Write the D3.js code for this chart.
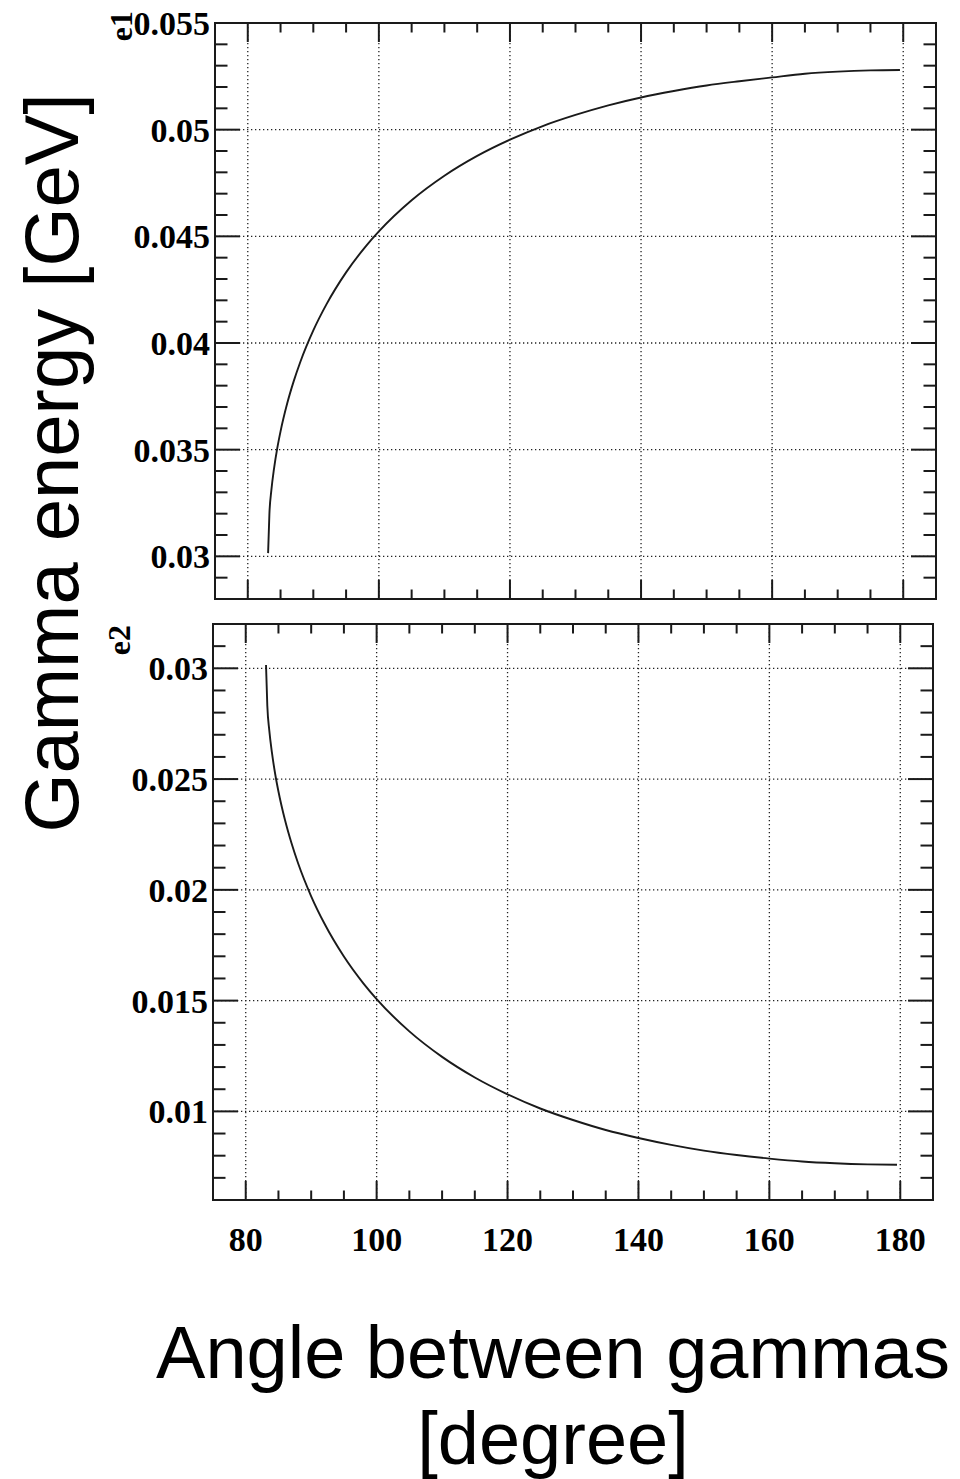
<!DOCTYPE html>
<html>
<head>
<meta charset="utf-8">
<script src="https://cdn.jsdelivr.net/npm/d3@7"></script>
<style>
  html, body { margin: 0; padding: 0; background: #fff; }
  svg { display: block; }
</style>
</head>
<body>
<div id="chart"></div>
<script>
// Angle between the two gammas (degrees)
const angles = [83.1, 83.3, 83.6, 84, 84.5, 85, 86, 87, 88, 90, 92, 95, 98, 100, 105, 110,
  115, 120, 125, 130, 135, 140, 145, 150, 155, 160, 165, 170, 175, 179.5];
// Energy of the harder gamma (GeV)
const e1Values = [0.03015, 0.0320, 0.0331, 0.0341, 0.03507, 0.03586, 0.03715, 0.0382, 0.0391,
  0.04059, 0.04181, 0.04331, 0.04453, 0.04523, 0.04669, 0.04784, 0.04877, 0.04953, 0.05017,
  0.05069, 0.05114, 0.05151, 0.05181, 0.05207, 0.05227, 0.05245, 0.05262, 0.05272, 0.05278, 0.0528];
// Energy of the softer gamma (GeV)
const e2Values = [0.03015, 0.0283, 0.0272, 0.0262, 0.02523, 0.02444, 0.02315, 0.0221, 0.0212,
  0.01971, 0.01849, 0.01699, 0.01577, 0.01507, 0.01361, 0.01246, 0.01153, 0.01077, 0.01013,
  0.00961, 0.00916, 0.0088, 0.00849, 0.00823, 0.00803, 0.00787, 0.00774, 0.00766, 0.00761, 0.00759];

const xDomain = [75, 185];
const xTicks = [80, 100, 120, 140, 160, 180];
const e1Domain = [0.028, 0.055];
const e1Ticks = [0.03, 0.035, 0.04, 0.045, 0.05, 0.055];
const e2Domain = [0.006, 0.032];
const e2Ticks = [0.01, 0.015, 0.02, 0.025, 0.03];

const W = 960, H = 1479;
const INK = '#1a1a1a';
const svg = d3.select('#chart').append('svg').attr('width', W).attr('height', H);

// one ROOT-style frame with mirrored ticks and dotted grid
function panel(box, yDomain, yTicks, values, title, titleEnd, showXLabels) {
  const x = d3.scaleLinear().domain(xDomain).range([box.left, box.right]);
  const y = d3.scaleLinear().domain(yDomain).range([box.bottom, box.top]);
  const g = svg.append('g');

  const xMinor = d3.range(xDomain[0], xDomain[1] + 0.001, 5).filter((v) => !xTicks.includes(v) && v > xDomain[0] && v < xDomain[1]);
  const yMinor = d3.range(Math.round(yDomain[0] * 1000), Math.round(yDomain[1] * 1000) + 1)
    .map((v) => v / 1000)
    .filter((v) => !yTicks.some((t) => Math.abs(t - v) < 1e-9) && v > yDomain[0] + 1e-9 && v < yDomain[1] - 1e-9);

  // grid
  const grid = g.append('g').attr('stroke', '#222').attr('stroke-width', 1.3).attr('stroke-dasharray', '1.3,2.7');
  grid.selectAll('line.gx').data(xTicks).enter().append('line')
    .attr('x1', (d) => x(d)).attr('x2', (d) => x(d)).attr('y1', box.top).attr('y2', box.bottom);
  grid.selectAll('line.gy').data(yTicks.filter((t) => t < yDomain[1] - 1e-9)).enter().append('line')
    .attr('y1', (d) => y(d)).attr('y2', (d) => y(d)).attr('x1', box.left).attr('x2', box.right);

  // curve
  const pts = angles.map((a, i) => [a, values[i]]);
  g.append('path').datum(pts)
    .attr('fill', 'none').attr('stroke', INK).attr('stroke-width', 1.9)
    .attr('d', d3.line().x((p) => x(p[0])).y((p) => y(p[1])).curve(d3.curveMonotoneX));

  // ticks
  const tk = g.append('g').attr('stroke', INK).attr('stroke-width', 2);
  const xt = xTicks.map((v) => ({ v, len: 19 })).concat(xMinor.map((v) => ({ v, len: 9.5 })));
  tk.selectAll('line.xb').data(xt).enter().append('line')
    .attr('x1', (d) => x(d.v)).attr('x2', (d) => x(d.v))
    .attr('y1', box.bottom).attr('y2', (d) => box.bottom - d.len);
  tk.selectAll('line.xt').data(xt).enter().append('line')
    .attr('x1', (d) => x(d.v)).attr('x2', (d) => x(d.v))
    .attr('y1', box.top).attr('y2', (d) => box.top + d.len);
  const yt = yTicks.map((v) => ({ v, len: 25 })).concat(yMinor.map((v) => ({ v, len: 12.5 })));
  tk.selectAll('line.yl').data(yt).enter().append('line')
    .attr('y1', (d) => y(d.v)).attr('y2', (d) => y(d.v))
    .attr('x1', box.left).attr('x2', (d) => box.left + d.len);
  tk.selectAll('line.yr').data(yt).enter().append('line')
    .attr('y1', (d) => y(d.v)).attr('y2', (d) => y(d.v))
    .attr('x1', box.right).attr('x2', (d) => box.right - d.len);

  // frame
  g.append('rect')
    .attr('x', box.left).attr('y', box.top)
    .attr('width', box.right - box.left).attr('height', box.bottom - box.top)
    .attr('fill', 'none').attr('stroke', INK).attr('stroke-width', 2);

  // tick labels
  const lab = g.append('g')
    .style('font-family', '"Liberation Serif", "Times New Roman", serif')
    .style('font-weight', 'bold').style('font-size', '34px').attr('fill', '#000');
  lab.selectAll('text.yl').data(yTicks).enter().append('text')
    .attr('x', box.left - 5).attr('y', (d) => y(d)).attr('dy', '0.35em')
    .attr('text-anchor', 'end')
    .text((d) => String(d));
  if (showXLabels) {
    lab.selectAll('text.xl').data(xTicks).enter().append('text')
      .attr('x', (d) => x(d)).attr('y', box.bottom + 51)
      .attr('text-anchor', 'middle')
      .text((d) => d);
  }

  // axis title (ROOT places it at the top end of the axis)
  g.append('text')
    .attr('transform', `translate(${box.left - 83},${titleEnd}) rotate(-90)`)
    .attr('text-anchor', 'end')
    .style('font-family', '"Liberation Serif", "Times New Roman", serif')
    .style('font-weight', 'bold').style('font-size', '32px')
    .text(title);
}

panel({ left: 215, right: 936, top: 23, bottom: 599 }, e1Domain, e1Ticks, e1Values, 'e1', 11, false);
panel({ left: 213, right: 933, top: 624, bottom: 1200 }, e2Domain, e2Ticks, e2Values, 'e2', 625, true);

// shared titles
const sans = '"Liberation Sans", Arial, Helvetica, sans-serif';
svg.append('text')
  .attr('transform', 'translate(78,463) rotate(-90)')
  .attr('text-anchor', 'middle')
  .style('font-family', sans).style('font-size', '76px').attr('fill', '#000')
  .text('Gamma energy [GeV]');
svg.append('text')
  .attr('x', 553).attr('y', 1378)
  .attr('text-anchor', 'middle')
  .style('font-family', sans).style('font-size', '74px').attr('fill', '#000')
  .text('Angle between gammas');
svg.append('text')
  .attr('x', 553).attr('y', 1464)
  .attr('text-anchor', 'middle')
  .style('font-family', sans).style('font-size', '74px').attr('fill', '#000')
  .text('[degree]');
</script>
</body>
</html>
